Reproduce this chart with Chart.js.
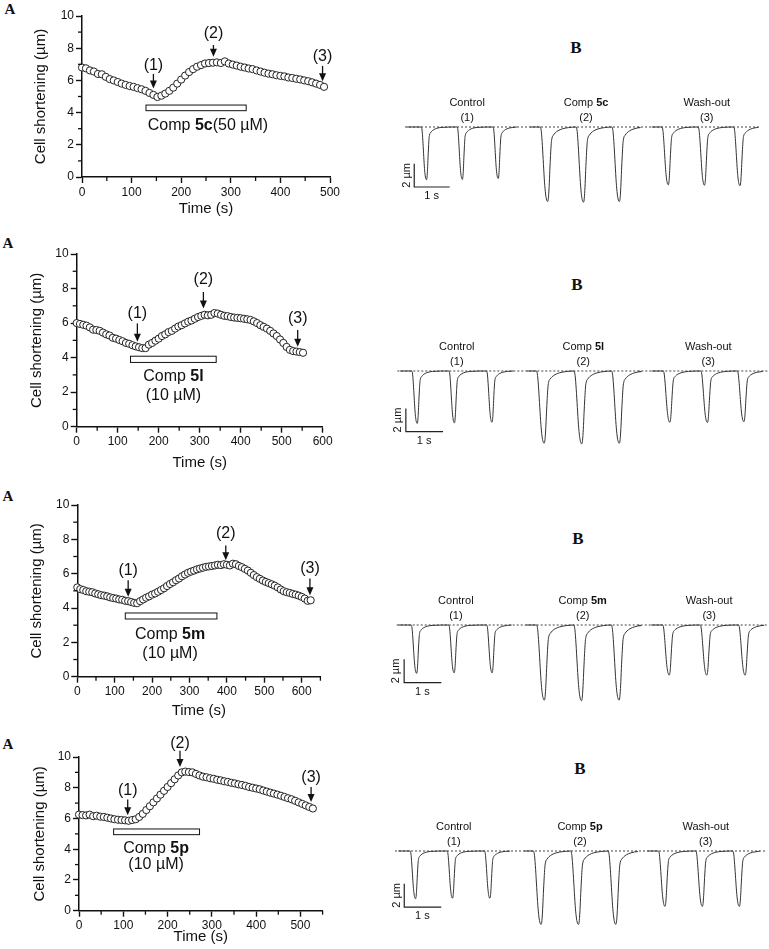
<!DOCTYPE html>
<html>
<head>
<meta charset="utf-8">
<script src="https://cdn.jsdelivr.net/npm/chart.js@4/dist/chart.umd.min.js"></script>
<style>
  body { margin: 0; background: #fff; width: 769px; height: 949px; position: relative; overflow: hidden; }
  canvas { position: absolute; }
  .tag { position: absolute; width: 40px; text-align: center; line-height: 1; font-family: "Liberation Serif", "Times New Roman", serif; font-weight: bold; color: #111; }
</style>
</head>
<body>
<div class="tag" style="left:-10px;top:2px;font-size:15px">A</div>
<div class="tag" style="left:-12px;top:236px;font-size:15px">A</div>
<div class="tag" style="left:-12px;top:489px;font-size:15px">A</div>
<div class="tag" style="left:-12px;top:737px;font-size:15px">A</div>
<div class="tag" style="left:556px;top:39px;font-size:17px">B</div>
<div class="tag" style="left:557px;top:276px;font-size:17px">B</div>
<div class="tag" style="left:558px;top:530px;font-size:17px">B</div>
<div class="tag" style="left:560px;top:760px;font-size:17px">B</div>

<canvas id="a1"></canvas><canvas id="b1"></canvas>
<canvas id="a2"></canvas><canvas id="b2"></canvas>
<canvas id="a3"></canvas><canvas id="b3"></canvas>
<canvas id="a4"></canvas><canvas id="b4"></canvas>

<script>
// ---- panel A data: cell shortening (µm), one reading every 8 s from t = 0
const timeStep = 8;
const cs5c = [6.80, 6.75, 6.62, 6.55, 6.40, 6.38, 6.22, 6.08, 6.00, 5.90, 5.80, 5.72, 5.65, 5.60, 5.52, 5.45,
  5.35, 5.22, 5.10, 4.97, 5.05, 5.18, 5.35, 5.55, 5.80, 6.05, 6.30, 6.52, 6.70, 6.85, 6.95, 7.05,
  7.08, 7.10, 7.12, 7.08, 7.18, 7.05, 6.98, 6.92, 6.85, 6.80, 6.74, 6.70, 6.62, 6.55, 6.48, 6.42,
  6.38, 6.32, 6.28, 6.25, 6.18, 6.15, 6.10, 6.06, 6.00, 5.95, 5.88, 5.80, 5.72, 5.60];
const cs5l = [6.00, 5.95, 5.90, 5.85, 5.75, 5.62, 5.60, 5.55, 5.45, 5.35, 5.28, 5.15, 5.10, 5.02, 4.95, 4.85,
  4.80, 4.72, 4.65, 4.60, 4.55, 4.55, 4.75, 4.85, 4.98, 5.10, 5.25, 5.35, 5.48, 5.55, 5.68, 5.80,
  5.88, 5.98, 6.08, 6.15, 6.25, 6.35, 6.42, 6.48, 6.45, 6.48, 6.58, 6.55, 6.48, 6.42, 6.40, 6.35,
  6.32, 6.30, 6.28, 6.25, 6.22, 6.18, 6.10, 6.00, 5.88, 5.78, 5.68, 5.55, 5.40, 5.25, 5.05, 4.85,
  4.62, 4.45, 4.38, 4.35, 4.32, 4.28];
const cs5m = [5.20, 5.10, 5.05, 4.98, 4.95, 4.92, 4.85, 4.80, 4.75, 4.72, 4.68, 4.62, 4.58, 4.55, 4.50, 4.48,
  4.42, 4.40, 4.35, 4.30, 4.28, 4.40, 4.50, 4.60, 4.68, 4.78, 4.85, 4.95, 5.05, 5.15, 5.28, 5.40,
  5.50, 5.62, 5.72, 5.85, 5.95, 6.05, 6.12, 6.18, 6.25, 6.30, 6.35, 6.40, 6.42, 6.45, 6.48, 6.52,
  6.50, 6.55, 6.52, 6.48, 6.58, 6.55, 6.45, 6.38, 6.28, 6.18, 6.05, 5.92, 5.80, 5.70, 5.60, 5.52,
  5.45, 5.38, 5.30, 5.20, 5.08, 4.98, 4.92, 4.88, 4.82, 4.78, 4.72, 4.65, 4.55, 4.42, 4.45];
const cs5p = [6.25, 6.22, 6.20, 6.25, 6.15, 6.18, 6.12, 6.10, 6.05, 6.00, 5.95, 5.92, 5.90, 5.88, 5.85, 5.90,
  5.95, 6.10, 6.30, 6.55, 6.80, 7.05, 7.30, 7.55, 7.80, 8.05, 8.30, 8.55, 8.80, 9.00, 9.05, 9.02,
  9.00, 8.90, 8.80, 8.72, 8.68, 8.62, 8.58, 8.52, 8.48, 8.42, 8.38, 8.32, 8.28, 8.22, 8.18, 8.12,
  8.05, 8.00, 7.95, 7.90, 7.82, 7.75, 7.68, 7.62, 7.55, 7.48, 7.40, 7.32, 7.25, 7.15, 7.05, 6.95,
  6.85, 6.75, 6.65];
const yTicksA = [0, 2, 4, 6, 8, 10];
const xTicks5c = [0, 100, 200, 300, 400, 500];
const xTicks5l = [0, 100, 200, 300, 400, 500, 600];
const xTicks5m = [0, 100, 200, 300, 400, 500, 600];
const xTicks5p = [0, 100, 200, 300, 400, 500];

// ---- panel B data: twitch traces (s, µm below resting length)
// twitch template (time from onset, fraction of peak shortening)
const twitchT = [0, 0.03, 0.06, 0.09, 0.12, 0.15, 0.18, 0.21, 0.23, 0.25, 0.27, 0.29, 0.31, 0.33, 0.37, 0.42, 0.50, 0.62, 0.80];
const twitchShape = [0, 0.06, 0.25, 0.5, 0.74, 0.9, 0.98, 1.0, 0.95, 0.8, 0.58, 0.38, 0.22, 0.15, 0.11, 0.08, 0.05, 0.025, 0.008];
const twitchWidth = [0.7, 1.0, 0.85]; // control, compound, wash-out

const spans5c = [[0.05, 3.15], [3.52, 6.56], [6.95, 9.94]];
const onsets5c = [[0.46, 1.47, 2.48], [3.81, 4.82, 5.83], [7.24, 8.26, 9.26]];
const depths5c = [[4.53, 4.5, 4.42], [6.4, 6.45, 6.4], [4.96, 5.0, 5.04]];

const spans5l = [[0.07, 3.12], [3.48, 6.48], [6.84, 9.84]];
const onsets5l = [[0.39, 1.39, 2.40], [3.74, 4.75, 5.76], [7.15, 8.16, 9.14]];
const depths5l = [[4.5, 4.45, 4.4], [6.2, 6.25, 6.2], [4.4, 4.42, 4.35]];

const spans5m = [[0.04, 3.09], [3.47, 6.49], [6.84, 9.85]];
const onsets5m = [[0.39, 1.40, 2.42], [3.76, 4.76, 5.77], [7.15, 8.16, 9.19]];
const depths5m = [[4.15, 4.1, 4.1], [6.45, 6.5, 6.45], [4.3, 4.3, 4.3]];

const spans5p = [[0.09, 3.11], [3.49, 6.53], [6.82, 9.86]];
const onsets5p = [[0.41, 1.41, 2.42], [3.74, 4.75, 5.76], [7.12, 8.13, 9.13]];
const depths5p = [[4.1, 4.05, 4.05], [6.3, 6.3, 6.3], [4.75, 4.75, 4.75]];

const FONT = '"Liberation Sans", Arial, sans-serif';
Chart.defaults.font.family = FONT;
Chart.defaults.color = '#111';

function drawMixed(ctx, parts, cx, cy, size) {
  let total = 0;
  parts.forEach(p => {
    ctx.font = (p.bold ? 'bold ' : '') + size + 'px ' + FONT;
    total += ctx.measureText(p.text).width;
  });
  let x = cx - total / 2;
  ctx.textAlign = 'left';
  ctx.textBaseline = 'middle';
  parts.forEach(p => {
    ctx.font = (p.bold ? 'bold ' : '') + size + 'px ' + FONT;
    ctx.fillText(p.text, x, cy);
    x += ctx.measureText(p.text).width;
  });
}

const annotateA = {
  id: 'annotateA',
  afterDraw(chart, args, o) {
    const { ctx, scales: { x, y } } = chart;
    ctx.save();
    ctx.strokeStyle = '#111';
    ctx.fillStyle = '#111';
    ctx.lineWidth = 1.3;
    // minor ticks
    for (let v = 50; v <= x.max; v += 100) {
      const px = x.getPixelForValue(v);
      ctx.beginPath(); ctx.moveTo(px, y.bottom); ctx.lineTo(px, y.bottom + 4); ctx.stroke();
    }
    for (let v = 1; v < 10; v += 2) {
      const py = y.getPixelForValue(v);
      ctx.beginPath(); ctx.moveTo(x.left, py); ctx.lineTo(x.left - 4, py); ctx.stroke();
    }
    // drug bar
    const b = o.bar;
    const bx0 = x.getPixelForValue(b.from), bx1 = x.getPixelForValue(b.to);
    const by0 = y.getPixelForValue(b.hi), by1 = y.getPixelForValue(b.lo);
    ctx.lineWidth = 1;
    ctx.fillStyle = '#fff';
    ctx.fillRect(bx0, by0, bx1 - bx0, by1 - by0);
    ctx.strokeRect(bx0 + 0.5, by0 + 0.5, bx1 - bx0, by1 - by0);
    ctx.fillStyle = '#111';
    o.text.forEach(line => drawMixed(ctx, line.parts, x.getPixelForValue(line.x), y.getPixelForValue(line.y), 16));
    // arrows
    o.arrows.forEach((a, i) => {
      const px = x.getPixelForValue(a.x);
      const p0 = y.getPixelForValue(a.from), p1 = y.getPixelForValue(a.to);
      ctx.lineWidth = 1.3;
      ctx.beginPath(); ctx.moveTo(px, p0); ctx.lineTo(px, p1 - 6); ctx.stroke();
      ctx.beginPath(); ctx.moveTo(px - 3.5, p1 - 8); ctx.lineTo(px + 3.5, p1 - 8); ctx.lineTo(px, p1); ctx.closePath(); ctx.fill();
      drawMixed(ctx, [{ text: '(' + (i + 1) + ')' }], px, y.getPixelForValue(a.label), 16);
    });
    ctx.restore();
  }
};

function drawPanelA(id, box, values, xMax, xTicks, marks) {
  const top = box.top - 32;
  const height = box.titleY + 12 - top;
  const width = 345;
  const cv = document.getElementById(id);
  cv.width = width; cv.height = height;
  cv.style.left = '0px'; cv.style.top = top + 'px';
  const axisGrid = { drawOnChartArea: false, tickLength: 6, tickColor: '#111', tickWidth: 1.4 };
  const axisBorder = { color: '#111', width: 1.5 };
  new Chart(cv, {
    type: 'scatter',
    data: {
      datasets: [{
        data: values.map((v, i) => ({ x: i * timeStep, y: v })),
        pointRadius: 3.6, pointBackgroundColor: '#fff', pointBorderColor: '#222', pointBorderWidth: 1,
        clip: false
      }]
    },
    options: {
      responsive: false, animation: false, devicePixelRatio: 1,
      layout: { padding: { top: 32, right: width - box.right, left: 0, bottom: 0 } },
      plugins: { legend: { display: false }, tooltip: { enabled: false }, annotateA: marks },
      scales: {
        x: {
          type: 'linear', min: 0, max: xMax,
          afterFit: s => { s.height = height - (box.bottom - top); },
          afterBuildTicks: s => { s.ticks = xTicks.map(v => ({ value: v })); },
          ticks: { font: { size: 12 }, padding: 2, maxRotation: 0, autoSkip: false },
          grid: axisGrid, border: axisBorder,
          title: { display: true, text: 'Time (s)', font: { size: 15 }, padding: { top: 0, bottom: 3 } }
        },
        y: {
          type: 'linear', min: 0, max: 10,
          afterFit: s => { s.width = box.left; },
          afterBuildTicks: s => { s.ticks = yTicksA.map(v => ({ value: v })); },
          ticks: { font: { size: 12 }, padding: 2 },
          grid: axisGrid, border: axisBorder,
          title: { display: true, text: 'Cell shortening (µm)', font: { size: 15 }, padding: { top: box.yTitleX - 9, bottom: 0 } }
        }
      }
    },
    plugins: [annotateA]
  });
}

function buildTrace(span, onsets, depths, w) {
  const pts = [{ x: span[0], y: 0 }];
  onsets.forEach((o, i) => {
    twitchT.forEach((t, k) => pts.push({ x: o + t * w, y: -depths[i] * twitchShape[k] }));
  });
  pts.push({ x: span[1], y: 0 });
  return pts;
}

const annotateB = {
  id: 'annotateB',
  afterDraw(chart, args, o) {
    const { ctx, scales: { x, y } } = chart;
    ctx.save();
    ctx.fillStyle = '#111';
    o.groups.forEach((g, i) => {
      const px = x.getPixelForValue(g.x);
      drawMixed(ctx, g.parts, px, y.getPixelForValue(2.03), 11);
      drawMixed(ctx, [{ text: '(' + (i + 1) + ')' }], px, y.getPixelForValue(0.8), 11);
    });
    const sb = o.bar;
    drawMixed(ctx, [{ text: '1 s' }], x.getPixelForValue(sb.x + 0.49), y.getPixelForValue(sb.y - 0.77), 11);
    ctx.translate(x.getPixelForValue(sb.x - 0.21), y.getPixelForValue(sb.y + 1));
    ctx.rotate(-Math.PI / 2);
    drawMixed(ctx, [{ text: '2 µm' }], 0, 0, 11);
    ctx.restore();
  }
};

function drawPanelB(id, lay, spans, onsets, depths, names) {
  const left = 380, width = 389, height = 130, ppu = 11.65;
  const top = lay.baseY - 40;
  const cv = document.getElementById(id);
  cv.width = width; cv.height = height;
  cv.style.left = left + 'px'; cv.style.top = top + 'px';
  const datasets = spans.map((sp, g) => ({
    data: buildTrace(sp, onsets[g], depths[g], twitchWidth[g]),
    borderColor: '#333', borderWidth: 1, pointRadius: 0, cubicInterpolationMode: 'monotone'
  }));
  datasets.push({ data: [{ x: 0, y: 0 }, { x: lay.dashEnd, y: 0 }], borderColor: '#444', borderWidth: 1, borderDash: [2, 2], pointRadius: 0 });
  const sb = lay.bar;
  datasets.push({ data: [{ x: sb.x, y: sb.y + 2 }, { x: sb.x, y: sb.y }, { x: sb.x + 1, y: sb.y }], borderColor: '#222', borderWidth: 1.2, pointRadius: 0 });
  new Chart(cv, {
    type: 'line',
    data: { datasets },
    options: {
      responsive: false, animation: false, devicePixelRatio: 1,
      layout: { padding: 0 },
      plugins: {
        legend: { display: false }, tooltip: { enabled: false },
        annotateB: { groups: names.map((n, i) => ({ parts: n, x: lay.labelX[i] })), bar: sb }
      },
      scales: {
        x: { type: 'linear', display: false, min: (left - lay.originX) / lay.pps, max: (left + width - lay.originX) / lay.pps },
        y: { type: 'linear', display: false, min: -(height - 40) / ppu, max: 40 / ppu }
      }
    },
    plugins: [annotateB]
  });
}

function compLabel(code) {
  return [{ text: 'Comp ' }, { text: code, bold: true }];
}
function groupNames(code) {
  return [[{ text: 'Control' }], compLabel(code), [{ text: 'Wash-out' }]];
}

// row 1: 5c
drawPanelA('a1', { left: 82, right: 330, top: 16, bottom: 177, titleY: 209, yTitleX: 41 }, cs5c, 500, xTicks5c, {
  bar: { from: 128, to: 330, lo: 4.15, hi: 4.5 },
  text: [{ x: 254, y: 3.17, parts: [{ text: 'Comp ' }, { text: '5c', bold: true }, { text: '(50 µM)' }] }],
  arrows: [{ x: 144, from: 6.4, to: 5.5, label: 6.95 }, { x: 265, from: 8.2, to: 7.47, label: 8.9 }, { x: 485, from: 6.9, to: 5.95, label: 7.47 }]
});
drawPanelB('b1', { originX: 405, pps: 35.5, baseY: 126.7, dashEnd: 10.0, bar: { x: 0.26, y: -5.15 }, labelX: [1.75, 5.1, 8.5] },
  spans5c, onsets5c, depths5c, groupNames('5c'));

// row 2: 5l
drawPanelA('a2', { left: 76.7, right: 322.7, top: 254, bottom: 426.7, titleY: 463, yTitleX: 37 }, cs5l, 600, xTicks5l, {
  bar: { from: 130, to: 339, lo: 3.75, hi: 4.11 },
  text: [{ x: 236, y: 2.9, parts: compLabel('5l') }, { x: 236, y: 1.8, parts: [{ text: '(10 µM)' }] }],
  arrows: [{ x: 148, from: 5.98, to: 4.92, label: 6.56 }, { x: 309, from: 7.8, to: 6.85, label: 8.5 }, { x: 539, from: 5.6, to: 4.63, label: 6.27 }]
});
drawPanelB('b2', { originX: 397.3, pps: 37.2, baseY: 371, dashEnd: 9.99, bar: { x: 0.23, y: -5.21 }, labelX: [1.6, 5.0, 8.36] },
  spans5l, onsets5l, depths5l, groupNames('5l'));

// row 3: 5m
drawPanelA('a3', { left: 77.3, right: 320.4, top: 504.7, bottom: 676.7, titleY: 711, yTitleX: 37 }, cs5m, 650, xTicks5m, {
  bar: { from: 127, to: 372, lo: 3.39, hi: 3.74 },
  text: [{ x: 248, y: 2.46, parts: compLabel('5m') }, { x: 248, y: 1.36, parts: [{ text: '(10 µM)' }] }],
  arrows: [{ x: 136, from: 5.62, to: 4.65, label: 6.2 }, { x: 397, from: 7.64, to: 6.78, label: 8.33 }, { x: 622, from: 5.72, to: 4.75, label: 6.3 }]
});
drawPanelB('b3', { originX: 396.7, pps: 37.2, baseY: 625, dashEnd: 9.98, bar: { x: 0.2, y: -4.95 }, labelX: [1.59, 5.0, 8.4] },
  spans5m, onsets5m, depths5m, groupNames('5m'));

// row 4: 5p
drawPanelA('a4', { left: 79, right: 322.6, top: 756.7, bottom: 910.7, titleY: 937, yTitleX: 39.5 }, cs5p, 550, xTicks5p, {
  bar: { from: 77, to: 271, lo: 4.98, hi: 5.35 },
  text: [{ x: 174, y: 4.05, parts: compLabel('5p') }, { x: 174, y: 2.97, parts: [{ text: '(10 µM)' }] }],
  arrows: [{ x: 110, from: 7.23, to: 6.21, label: 7.84 }, { x: 228, from: 10.4, to: 9.35, label: 10.9 }, { x: 524, from: 8.05, to: 7.08, label: 8.66 }]
});
drawPanelB('b4', { originX: 395, pps: 37, baseY: 850.7, dashEnd: 10.0, bar: { x: 0.25, y: -4.81 }, labelX: [1.59, 5.0, 8.4] },
  spans5p, onsets5p, depths5p, groupNames('5p'));
</script>
</body>
</html>
